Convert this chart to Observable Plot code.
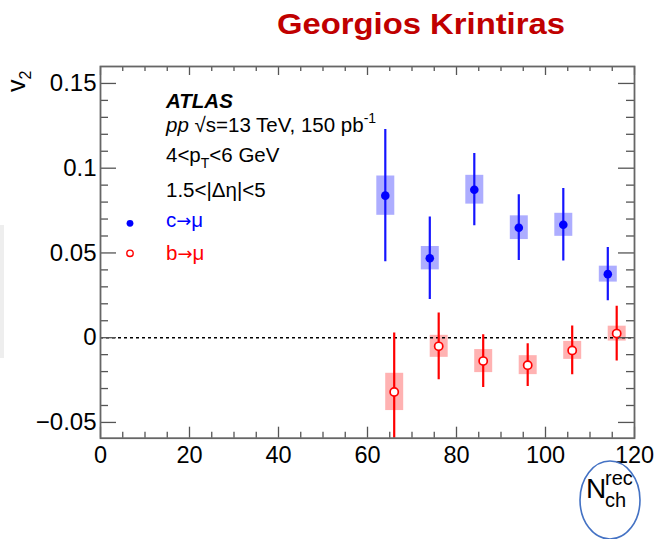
<!DOCTYPE html>
<html><head><meta charset="utf-8">
<script src="https://cdn.jsdelivr.net/npm/d3@7"></script>
<script src="https://cdn.jsdelivr.net/npm/@observablehq/plot@0.6"></script>
<style>
body{margin:0;background:#fff;font-family:"Liberation Sans",Arial,sans-serif;}
#wrap{position:relative;width:656px;height:539px;overflow:hidden;background:#fff;}
#wrap svg{display:block;}
#strip{position:absolute;left:0;top:225px;width:4px;height:133px;background:#eeeeee;}
</style></head><body><div id="wrap"><div id="strip"></div></div>
<script>
// c -> mu
const nchC  = [64, 74, 84, 94, 104, 114];
const v2C   = [0.0838, 0.0469, 0.0873, 0.0649, 0.0666, 0.0375];
const statC = [0.0390, 0.0243, 0.0213, 0.0194, 0.0214, 0.0157];
const sysC  = [0.0116, 0.0069, 0.0085, 0.0070, 0.0068, 0.0047];
// b -> mu
const nchB  = [66, 76, 86, 96, 106, 116];
const v2B   = [-0.0320, -0.0051, -0.0138, -0.0162, -0.0075, 0.0024];
const statB = [0.0347, 0.0197, 0.0156, 0.0126, 0.0144, 0.0162];
const sysB  = [0.0110, 0.0065, 0.0068, 0.0056, 0.0053, 0.0044];

const xTicks = [0, 20, 40, 60, 80, 100, 120];
const xMinorTicks = [5,10,15,25,30,35,45,50,55,65,70,75,85,90,95,105,110,115];
const yTicks = [-0.05, 0, 0.05, 0.1, 0.15];
const yTickLabels = ["\u22120.05", "0", "0.05", "0.1", "0.15"];
const yMinorTicks = [-0.04,-0.03,-0.02,-0.01,0.01,0.02,0.03,0.04,0.06,0.07,0.08,0.09,0.11,0.12,0.13,0.14];

const cRows = nchC.map((x, i) => ({x, v: v2C[i], stat: statC[i], sys: sysC[i]}));
const bRows = nchB.map((x, i) => ({x, v: v2B[i], stat: statB[i], sys: sysB[i]}));

const W = 656, H = 489, ML = 100, MR = 22, MT = 16, MB = 101.3;
const PW = W - ML - MR, PH = H - MT - MB;
const BLUE = "#0000ff", RED = "#ff0000", TICK = "#555";
const FONT = "Liberation Sans, Arial, sans-serif";

const wrap = document.getElementById("wrap");

// title
const tsvg = d3.create("svg").attr("width", W).attr("height", 50);
tsvg.append("text").attr("x", 277).attr("y", 33.5)
  .attr("font-family", FONT)
  .attr("font-weight", "bold").attr("font-size", 30).attr("fill", "#c00000")
  .attr("textLength", 288).attr("lengthAdjust", "spacingAndGlyphs")
  .text("Georgios Krintiras");
wrap.appendChild(tsvg.node());

const chart = Plot.plot({
  width: W, height: H,
  marginLeft: ML, marginRight: MR, marginTop: MT, marginBottom: MB,
  style: {fontFamily: FONT, color: "#000", background: "#fff"},
  x: {domain: [0, 120]},
  y: {domain: [-0.0593, 0.16]},
  marks: [
    // systematic boxes
    Plot.ruleX(cRows, {x: "x", y1: d => d.v - d.sys, y2: d => d.v + d.sys, stroke: BLUE, strokeOpacity: 0.32, strokeWidth: 18}),
    Plot.ruleX(bRows, {x: "x", y1: d => d.v - d.sys, y2: d => d.v + d.sys, stroke: RED, strokeOpacity: 0.3, strokeWidth: 18}),
    // zero line
    Plot.ruleY([0], {stroke: "#000", strokeWidth: 1.6, strokeDasharray: "3,3"}),
    // stat error bars
    Plot.ruleX(cRows, {x: "x", y1: d => d.v - d.stat, y2: d => d.v + d.stat, stroke: "#1515ff", strokeWidth: 2.2, clip: true}),
    Plot.ruleX(bRows, {x: "x", y1: d => d.v - d.stat, y2: d => d.v + d.stat, stroke: RED, strokeWidth: 2.2, clip: true}),
    // points
    Plot.dot(cRows, {x: "x", y: "v", r: 4.3, fill: BLUE, stroke: "none"}),
    Plot.dot(bRows, {x: "x", y: "v", r: 4.1, fill: "#fff", stroke: RED, strokeWidth: 1.7}),
    // inward ticks
    Plot.tickY(yTicks, {y: d => d, insetRight: PW - 16, stroke: TICK, strokeWidth: 1.3}),
    Plot.tickY(yMinorTicks, {y: d => d, insetRight: PW - 8, stroke: TICK, strokeWidth: 1.3}),
    Plot.tickY(yTicks, {y: d => d, insetLeft: PW - 16, stroke: TICK, strokeWidth: 1.3}),
    Plot.tickY(yMinorTicks, {y: d => d, insetLeft: PW - 8, stroke: TICK, strokeWidth: 1.3}),
    Plot.tickX(xTicks, {x: d => d, insetTop: PH - 11, stroke: TICK, strokeWidth: 1.3}),
    Plot.tickX(xMinorTicks, {x: d => d, insetTop: PH - 6, stroke: TICK, strokeWidth: 1.3}),
    Plot.tickX(xTicks, {x: d => d, insetBottom: PH - 9, stroke: TICK, strokeWidth: 1.3}),
    Plot.tickX(xMinorTicks, {x: d => d, insetBottom: PH - 5, stroke: TICK, strokeWidth: 1.3}),
    Plot.frame({stroke: "#666", strokeWidth: 1.8}),
    // tick labels
    Plot.axisX(xTicks, {tickSize: 0, tickPadding: 8, fontSize: 23.5, label: null, tickFormat: d => String(d)}),
    Plot.axisY(yTicks, {tickSize: 0, tickPadding: 4, fontSize: 24, label: null, tickFormat: d => yTickLabels[yTicks.indexOf(d)]})
  ]
});
wrap.appendChild(chart);

const svg = d3.select(chart);
const OY = 50; // offset of plot svg in page
const g = svg.append("g").attr("font-family", FONT).attr("fill", "#000").attr("text-anchor", "start");

// y label
const yl = g.append("text").attr("transform", `translate(25,${92 - OY}) rotate(-90)`).attr("font-size", 25);
yl.append("tspan").text("v");
yl.append("tspan").attr("dy", 6).attr("font-size", 16).text("2");

// annotations
const FS = 20.5;
g.append("text").attr("x", 166).attr("y", 108.3 - OY).attr("font-size", 20.5)
  .attr("font-weight", "bold").attr("font-style", "italic").text("ATLAS");
const l2 = g.append("text").attr("x", 166).attr("y", 131.7 - OY).attr("font-size", FS);
l2.append("tspan").attr("font-style", "italic").text("pp");
l2.append("tspan").text(" \u221As=13 TeV, 150 pb");
l2.append("tspan").attr("dy", -9).attr("font-size", 14).text("-1");
const l3 = g.append("text").attr("x", 166).attr("y", 161.7 - OY).attr("font-size", FS);
l3.append("tspan").text("4<p");
l3.append("tspan").attr("dy", 6).attr("font-size", 14).text("T");
l3.append("tspan").attr("dy", -6).text("<6 GeV");
g.append("text").attr("x", 166).attr("y", 196.7 - OY).attr("font-size", FS).text("1.5<|\u0394\u03B7|<5");
const ARROWFONT = "DejaVu Sans, Liberation Sans, sans-serif";
const lc = g.append("text").attr("x", 166).attr("y", 227 - OY).attr("font-size", FS).attr("fill", BLUE);
lc.append("tspan").text("c");
lc.append("tspan").attr("font-family", ARROWFONT).attr("font-size", 18).text("\u2192");
lc.append("tspan").text("\u03BC");
const lb = g.append("text").attr("x", 166).attr("y", 259.5 - OY).attr("font-size", FS).attr("fill", RED);
lb.append("tspan").text("b");
lb.append("tspan").attr("font-family", ARROWFONT).attr("font-size", 18).text("\u2192");
lb.append("tspan").text("\u03BC");
g.append("circle").attr("cx", 130).attr("cy", 223.3 - OY).attr("r", 3.4).attr("fill", BLUE);
g.append("circle").attr("cx", 130).attr("cy", 253.3 - OY).attr("r", 3.2).attr("fill", "#fff").attr("stroke", RED).attr("stroke-width", 1.4);

// x label
g.append("text").attr("x", 586).attr("y", 498 - OY).attr("font-size", 28).text("N");
g.append("text").attr("x", 605).attr("y", 485 - OY).attr("font-size", 20).text("rec");
g.append("text").attr("x", 605).attr("y", 507 - OY).attr("font-size", 20).text("ch");
svg.append("ellipse").attr("cx", 610).attr("cy", 500 - OY).attr("rx", 30).attr("ry", 39)
  .attr("fill", "none").attr("stroke", "#4472c4").attr("stroke-width", 1.6);
</script>
</body></html>
